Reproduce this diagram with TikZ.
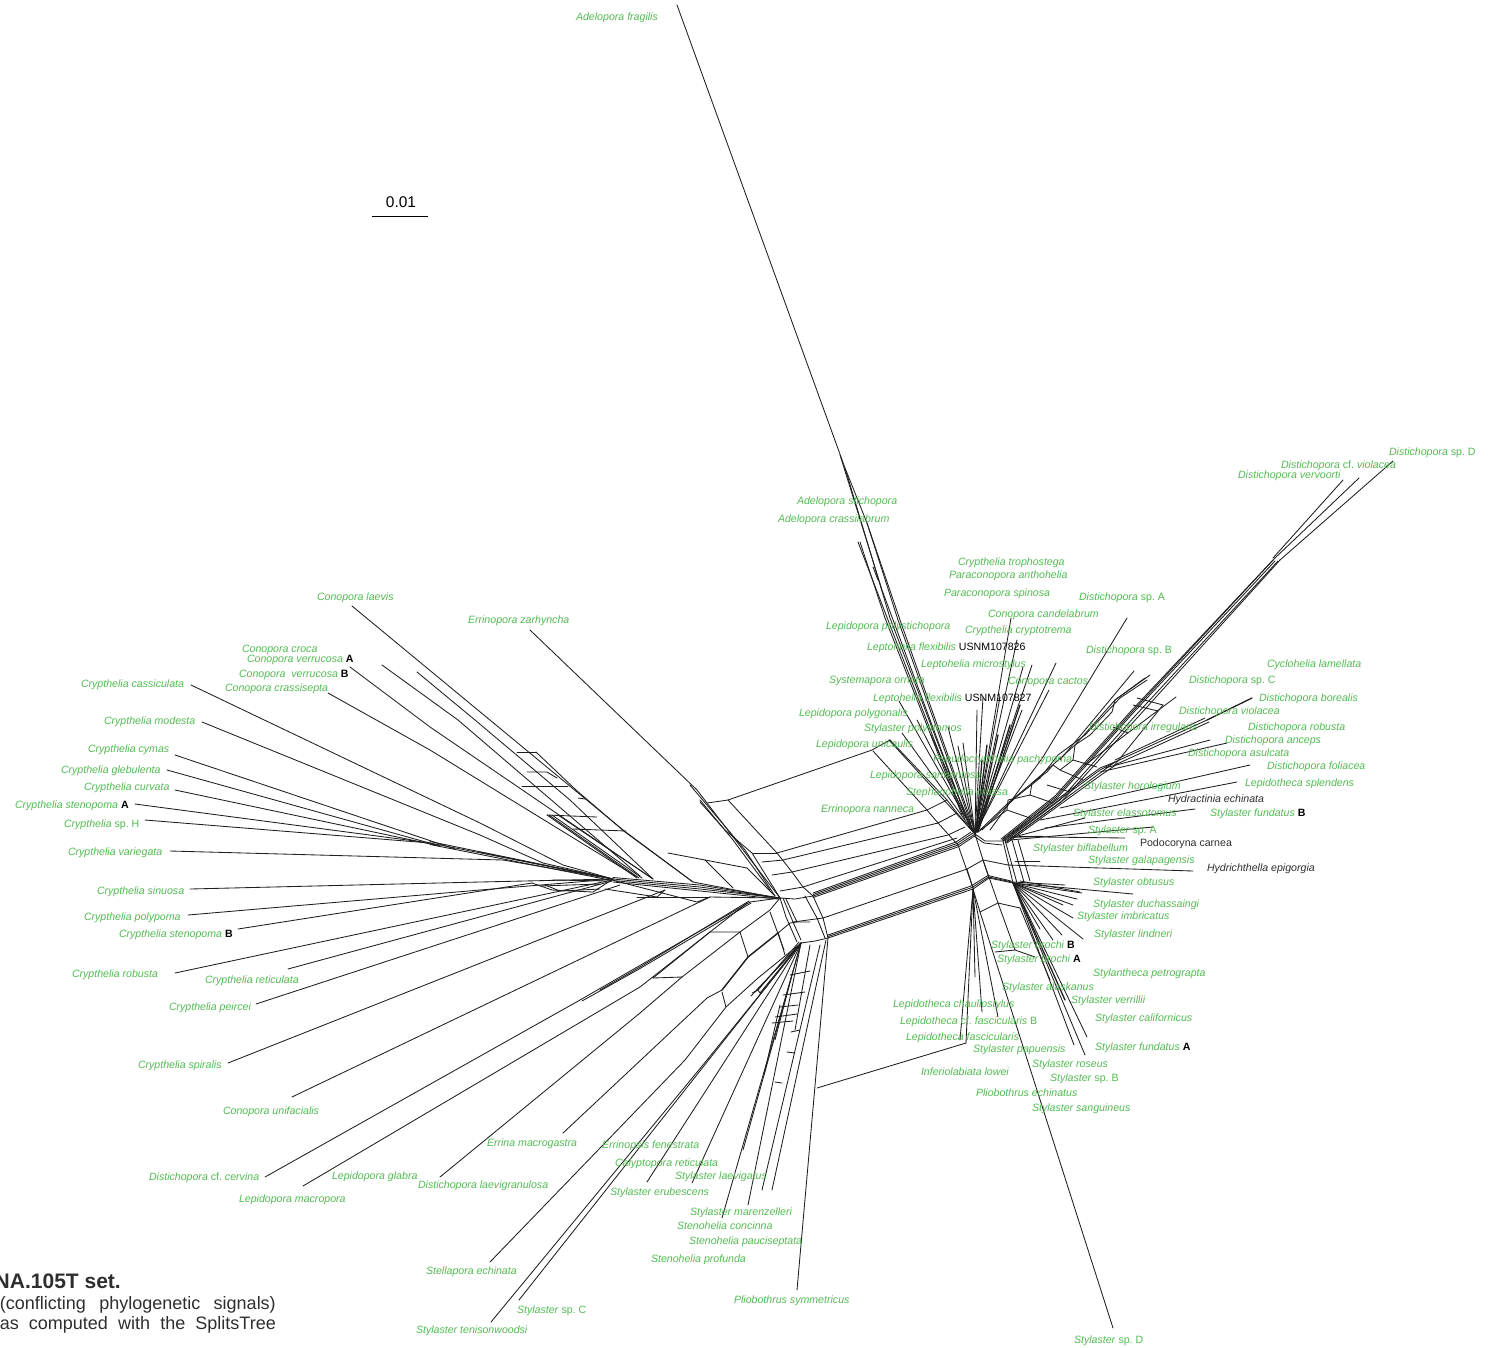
\documentclass[tikz,border=0pt]{standalone}
\usepackage{fontspec}
\setmainfont{Liberation Sans}
\frenchspacing
\definecolor{taxgreen}{HTML}{52BA52}
\definecolor{netline}{HTML}{1E1E1E}
\definecolor{captext}{HTML}{2E2E2E}
\tikzset{
  edge/.style={draw=netline,line width=0.85pt,line cap=round,line join=round},
  thick edge/.style={draw=netline,line width=1.3pt,line cap=round,line join=round},
  tax/.style={anchor=west,inner sep=0pt,outer sep=0pt,yshift=-2pt,text=taxgreen,font=\fontsize{10.6}{12}\selectfont\itshape},
  taxblack/.style={tax,text=captext},
  captxt/.style={anchor=east,inner sep=0pt,text=captext,font=\fontsize{18}{20}\selectfont},
}
\newcommand{\tagb}[1]{\textcolor{black}{\upshape #1}}
\newcommand{\tagB}[1]{\textcolor{black}{\upshape\bfseries #1}}
\newcommand{\up}[1]{\textup{#1}}
\begin{document}
\begin{tikzpicture}[x=1pt,y=-1pt]
\useasboundingbox (0,0) rectangle (1488,1347);
% hubs
\coordinate (LF) at (613,879);
\coordinate (LH) at (780,898);
\coordinate (LH2) at (813,896);
\coordinate (BH) at (801,943);
\coordinate (BH2) at (828,938);
\coordinate (TH) at (975,834);
\coordinate (RH) at (1003,841);
\coordinate (RB) at (1013,883);
\coordinate (MB) at (989,878);
\coordinate (BM) at (973,889);
\coordinate (UF) at (697,883);
\coordinate (DF) at (1115,762);
\coordinate (TF) at (1275,561);
% central parallel bundles
\draw[edge] (LH)--(795,899)--(LH2)--(958,845)--(TH);
\draw[edge] (LH2)++(0,-1.5)--(957,843.5)--(973,833);
\draw[edge] (LH2)++(0,-3)--(956,842)--(971,832);
\draw[edge] (LH2)++(0,1.5)--(959,846.5)--(976,835);
\draw[edge] (BH)--(815,941)--(BH2)--(BM)--(MB)--(RB);
\draw[edge] (BH2)++(0,-3)--(971,886)--(988,875.5)--(1011,881);
\draw[edge] (BH2)++(0,-1.5)--(972,887.5)--(988.5,877)--(1012,882);
\draw[edge] (TH)--(985,841)--(RH);
\draw[edge] (974,836)--(984,843)--(1002,845);
% middle splits
\draw[edge] (823,918)--(967,869)--(983,860)--(1008,865);
\draw[edge] (792,872)--(948,835)--(965,827);
\draw[edge] (777,853)--(927,810)--(947,800);
\draw[edge] (783,860)--(938,823)--(957,813);
\draw[edge] (803,887)--(957,838);
\draw[edge] (753,853)--(777,853);
\draw[edge] (762,862)--(783,860);
\draw[edge] (772,875)--(792,872);
\draw[edge] (780,891)--(803,887);
\draw[edge] (793,922)--(823,918);
% rails
\draw[edge] (707,803)--(728,800)--(872,750)--(890,740);
\draw[edge] (728,800)--(777,853)--(792,872)--(803,887)--(813,896);
\draw[edge] (873,751)--(927,810)--(938,823)--(958,845);
\draw[edge] (890,740)--(947,800)--(957,813)--(975,834);
\draw[edge] (958,845)--(973,888);
\draw[edge] (TH)--(983,860)--(MB);
\draw[edge] (967,869)--(973,888);
\draw[edge] (LH)--(786,917)--(797,942);
\draw[edge] (783,898)--(793,922)--(801,940);
\draw[edge] (786,899)--(797,922);
\draw[edge] (813,896)--(823,918)--(828,938);
\draw[edge] (805,896)--(817,918)--(825,938);
\draw[edge] (RH)--(RB);
\draw[edge] (1005,840)--(1017,883);
\draw[edge] (1012,840)--(1024,882);
\draw[edge] (1018,840)--(1030,881);
% Errinopora zarhyncha & neighbours
\draw[edge] (530,630)--(697,790)--(LH);
\draw[edge] (700,802)--(725,830)--(752,853)--(LH);
\draw[edge] (700,800)--(733,840)--(770,890);
\draw[edge] (690,785)--(745,850)--(775,896);
% fan at the upper left
\draw[edge] (352,606)--(623,830)--(693,882)--(772,897);
\draw[edge] (417,672)--(475,720)--(570,800)--(652,878);
\draw[edge] (382,665)--(458,720)--(640,876);
\draw[edge] (350,667)--(430,727)--(653,879);
\draw[edge] (328,693)--(430,750)--(637,877);
\draw[edge] (536,752)--(517,752);
\draw[edge] (527,772)--(547,772)--(557,778);
\draw[edge] (522,786)--(568,786);
\draw[edge] (578,798)--(585,799);
\draw[edge] (547,815)--(597,817);
\draw[edge] (573,829)--(626,831);
\draw[edge] (536,752)--(576,790)--(625,832)--(693,882);
\draw[edge] (547,815)--(637,878);
\draw[edge] (549,815)--(639,878);
\draw[edge] (552,815)--(642,878);
\draw[edge] (558,815)--(653,879);
\draw[edge] (668,853)--(705,860)--(747,868);
\draw[edge] (705,860)--(733,888);
\draw[edge] (747,868)--(775,896);
% central left bundle
\draw[edge] (LF)--(700,887)--(LH);
\draw[edge] (LF)++(0,-1.5)--(700,885)--(LH);
\draw[edge] (LF)++(0,1.5)--(700,889)--(LH);
\draw[edge] (LF)++(0,3)--(700,891)--(778,899);
\draw[edge] (430,843)--(LF);
\draw[edge] (430,841.5)--(LF);
\draw[edge] (430,844.5)--(612,880.5);
\draw[edge] (480,852)--(600,877);
% splits below the left hub
\draw[edge] (612,880)--(697,902)--(710,897);
\draw[edge] (605,889)--(657,897)--(665,890);
\draw[edge] (637,897)--(710,897);
\draw[edge] (710,897)--(778,898);
\draw[edge] (532,883)--(552,890)--(593,892)--(LF);
\draw[edge] (545,885)--(560,891)--(600,889);
\draw[edge] (540,886)--(600,884);
\draw[edge] (553,880)--(608,881);
% tips of the left fan
\foreach \tx/\ty/\ex/\ey in {175/755/455/849,167/770/440/846,175/790/440/846,135/804/430/843,145/820/430/843,170/851/503/860,188/915/480/890,238/929/532/883,175/973/612/880,288/969/612/881,256/1004/620/885,228/1063/665/890,292/1097/710/897}{
  \coordinate (tipA) at (\tx,\ty);
  \coordinate (endA) at (\ex,\ey);
  \draw[edge] (tipA)--(endA);
}
\draw[edge] (191,685)--(480,823)--(563,865)--(LF);
\draw[edge] (202,722)--(480,835)--(543,863)--(LF);
\draw[edge] (190,889)--(480,882)--(LF);
\draw[edge] (480,890)--(LF);
\draw[edge] (503,860)--(LF);
% lower-left splits
\draw[edge] (265,1177)--(580,1000)--(750,902);
\draw[edge] (582,1001)--(640,968.5)--(751,903);
\draw[edge] (600,990)--(640,967)--(749,901);
\draw[edge] (750,902)--(LH);
\draw[edge] (303,1186)--(640,987)--(710,932)--(740,932)--(770,910)--(LH);
\draw[edge] (710,932)--(747,903);
\draw[edge] (653,978)--(682,977);
\draw[edge] (653,978)--(710,932);
\draw[edge] (682,977)--(740,932);
\draw[edge] (440,1177)--(640,1013)--(682,977);
\draw[edge] (740,932)--(748,957);
\draw[edge] (563,1133)--(707,998)--(722,990)--(748,957)--(778,933)--(790,923)--(797,922)--(810,922);
\draw[thick edge] (722,990)--(748,957)--(778,933);
\draw[edge] (722,992)--(726,1007);
\draw[edge] (490,1262)--(685,1060)--(726,1007)--(758,978)--(BH);
\draw[edge] (770,912)--(784,950);
\draw[edge] (778,932)--(785,955);
% lower fan from hub BH
\foreach \tx/\ty in {519/1300,647/1182,692/1183,722/1218,748/1205,743/1150}{
  \coordinate (tipB) at (\tx,\ty);
  \draw[edge] (tipB)--(BH);
}
\draw[edge] (491,1322)--(707,1060)--(800,945);
\draw[edge] (755,992)--(BH);
\draw[edge] (758,990)--(799,942);
\draw[edge] (760,993)--(800,944);
\draw[edge] (751,996)--(BH);
\draw[edge] (752,993)--(758,990)--(760,993);
\draw[edge] (762,1190)--(820,945);
\draw[edge] (772,1190)--(826,940);
\draw[edge] (BH2)--(797,1290);
\draw[edge] (790,975)--(810,971);
\draw[edge] (783,995)--(805,992);
\draw[edge] (780,1007)--(798,1005);
\draw[edge] (775,1017)--(797,1014);
\draw[edge] (772,1023)--(793,1021);
\draw[edge] (791,1032)--(800,1030);
\draw[edge] (787,1052)--(795,1053);
\draw[edge] (775,1082)--(782,1083);
\draw[edge] (780,1005)--(764,1075);
\draw[edge] (792,975)--(775,1040);
\draw[edge] (810,945)--(795,1030);
\draw[edge] (817,1088)--(966,1043);
\draw[edge] (966,1043)--(BM);
% Adelopora group
\draw[edge] (677,5)--(845,468)--(890,618)--(968,822)--(TH);
\draw[edge] (845,468)--(867,523)--(898,620)--(971,824);
\draw[edge] (867,523)--(900,620)--(973,826);
\draw[edge] (840,455)--(882,590)--(969,825);
\draw[edge] (858,542)--(888,620)--(965,820);
\draw[edge] (860,542)--(885,618)--(962,815);
\draw[edge] (873,567)--(878,580);
\foreach \tx/\ty in {899/701,917/720,902/733,889/740,948/727,958/746,963/743,931/735,977/710,983/697,1011/618,1017/640,1032/665,1023/667,1056/663,1049/690,1022/710,1000/697}{
  \coordinate (tipC) at (\tx,\ty);
  \draw[edge] (tipC)--(TH);
}
\draw[thick edge] (982,760)--(976,832);
\draw[thick edge] (987,745)--(976,832);
\draw[thick edge] (998,735)--(977,832);
\draw[thick edge] (1010,725)--(977,832);
\draw[thick edge] (1020,705)--(978,832);
% right up bundles
\draw[edge] (1127,618)--(1043,757)--(990,830);
\draw[edge] (RH)--(1057,798)--(1133,713)--(TF);
\draw[edge] (1001,839)--(1055,796)--(1131,711)--(1273,560);
\draw[edge] (1003,839)--(1056,797)--(1132,712)--(1275,558);
\draw[edge] (1005,841)--(1060,800)--(1135,716)--(1278,561);
\draw[edge] (1007,841)--(1061,802)--(1137,718)--(1280,560);
\draw[edge] (1280,560)--(1393,461);
\draw[edge] (1275,558)--(1359,478);
\draw[edge] (1273,558)--(1343,480);
% jagged rail
\draw[edge] (978,832)--(1007,810)--(1008,800)--(1030,795)--(1032,783)--(1047,772)--(1053,765)--(1060,770)--(1073,760)--(1075,745)--(1090,735)--(1112,712)--(1115,700)--(1150,675);
\draw[edge] (980,830)--(1008,803)--(1032,783)--(1047,770)--(1075,745)--(1115,700)--(1145,678);
\draw[edge] (982,830)--(1015,798)--(1040,778)--(1058,755)--(1085,735)--(1120,698)--(1147,680);
\foreach \ax/\ay/\bx/\by in {1007/810/1030/818,1030/795/1053/803,1047/785/1070/792,1060/770/1083/780,1073/760/1097/767,1113/727/1128/733,1137/698/1163/705,1133/705/1158/711}{
  \coordinate (barA) at (\ax,\ay);
  \coordinate (barB) at (\bx,\by);
  \draw[edge] (barA)--(barB);
}
\draw[edge] (1134,671)--(1060,760);
\draw[edge] (1163,705)--(1113,767);
\draw[edge] (1176,697)--(1085,765);
% lower right-up bundle
\draw[edge] (RH)--(1100,770)--(DF);
\draw[edge] (1002,840)--(1100,768)--(DF);
\draw[edge] (1005,843)--(1100,773)--(DF);
\draw[edge] (1007,843)--(1101,775)--(1117,764);
\draw[edge] (DF)--(1207,720);
\draw[thick edge] (1207,720)--(1252,698);
\draw[edge] (1117,764)--(1209,722);
\draw[edge] (1115,760)--(1205,718);
\draw[edge] (1105,768)--(1210,740);
\draw[edge] (1100,772)--(1227,743);
\draw[edge] (1060,808)--(1250,765);
\draw[edge] (1040,820)--(1237,782);
\draw[edge] (1045,828)--(1195,809);
\draw[edge] (1010,840)--(1153,827);
\draw[edge] (1010,838)--(1085,818);
\draw[edge] (1043,837)--(1125,838);
\draw[thick edge] (1012,837)--(1043,836.5);
\draw[edge] (1008,865)--(1193,871);
\draw[edge] (1015,861)--(1040,861);
% right-lower fan
\foreach \tx/\ty in {1133/894,1082/893,1077/899,1073/905,1073/918,1063/905,1083/939,1062/935,1053/940,1040/929,1087/1037,1074/1045,1085/1055}{
  \coordinate (tipD) at (\tx,\ty);
  \draw[edge] (RB)--(tipD);
}
\draw[thick edge] (RB)--(1065,1000);
\draw[edge] (1013,882)--(1065,885);
\draw[edge] (1020,881)--(1080,892);
% lower splits, right
\draw[edge] (983,860)--(998,903)--(1015,950);
\draw[edge] (980,912)--(998,903)--(1020,908);
\draw[edge] (973,889)--(980,912)--(1113,1328);
\draw[edge] (995,952)--(1015,950)--(1035,957);
\draw[edge] (1020,908)--(1050,980);
\draw[edge] (BM)--(975,977);
\draw[edge] (BM)--(982,1012);
\draw[edge] (BM)--(998,1017);
\draw[edge] (BM)--(960,1040);
% scale bar
\coordinate (sbL) at (372,216);
\coordinate (sbR) at (428,216);
\draw[draw=black,line width=1pt] (sbL)--(sbR);
\node[inner sep=0pt,font=\fontsize{15.5}{17}\selectfont,text=black] (sb) at (401,202) {0.01};
% caption
\node[captxt,font=\fontsize{21}{23}\selectfont\bfseries] (cap1) at (121,1281) {NA.105T set.};
\node[captxt] (cap2) at (276,1305) {\makebox[276pt][s]{(conflicting phylogenetic signals)}};
\node[captxt] (cap3) at (276,1325) {\makebox[276pt][s]{as computed with the SplitsTree}};
% labels
\foreach \nx/\ny/\txt in {
576/16/Adelopora fragilis,797/500/Adelopora stichopora,778/518/Adelopora crassilabrum,
958/561/Crypthelia trophostega,949/574/Paraconopora anthohelia,944/592/Paraconopora spinosa,
1079/596/Distichopora \up{sp. A},988/613/Conopora candelabrum,965/629/Crypthelia cryptotrema,
826/625/Lepidopora polystichopora,1086/649/Distichopora \up{sp. B},921/663/Leptohelia microstylus,
1267/663/Cyclohelia lamellata,829/679/Systemapora ornata,1008/680/Conopora cactos,
1189/679/Distichopora \up{sp. C},1259/697/Distichopora borealis,799/712/Lepidopora polygonalis,
1179/710/Distichopora violacea,864/727/Stylaster polystomos,1089/726/Distichopora irregularis,
1248/726/Distichopora robusta,816/743/Lepidopora unicaulis,1225/739/Distichopora anceps,
1188/752/Distichopora asulcata,933/758/Pseudocrypthelia pachypoma,1267/765/Distichopora foliacea,
870/774/Lepidopora sarmentosa,1245/782/Lepidotheca splendens,1084/785/Stylaster horologium,
906/791/Stephanohelia crassa,821/808/Errinopora nanneca,1073/812/Stylaster elassotomus,
1088/829/Stylaster \up{sp. A},1033/847/Stylaster biflabellum,1088/859/Stylaster galapagensis,
1093/881/Stylaster obtusus,1093/903/Stylaster duchassaingi,1077/915/Stylaster imbricatus,
1094/933/Stylaster lindneri,1093/972/Stylantheca petrograpta,1002/986/Stylaster alaskanus,
1071/999/Stylaster verrillii,893/1003/Lepidotheca chauliostylus,1095/1017/Stylaster californicus,
900/1020/Lepidotheca \up{cf.} fascicularis \up{B},906/1036/Lepidotheca fascicularis,973/1048/Stylaster papuensis,
1032/1063/Stylaster roseus,921/1070/Inferiolabiata lowei,1050/1077/Stylaster \up{sp. B},
976/1091/Pliobothrus echinatus,1032/1107/Stylaster sanguineus,
317/596/Conopora laevis,468/619/Errinopora zarhyncha,242/648/Conopora croca,
225/687/Conopora crassisepta,81/683/Crypthelia cassiculata,104/720/Crypthelia modesta,
88/748/Crypthelia cymas,61/769/Crypthelia glebulenta,84/786/Crypthelia curvata,
64/823/Crypthelia \up{sp. H},68/851/Crypthelia variegata,97/890/Crypthelia sinuosa,
84/916/Crypthelia polypoma,72/973/Crypthelia robusta,205/979/Crypthelia reticulata,
169/1006/Crypthelia peircei,138/1064/Crypthelia spiralis,223/1110/Conopora unifacialis,
149/1176/Distichopora \up{cf.} cervina,239/1198/Lepidopora macropora,332/1175/Lepidopora glabra,
418/1184/Distichopora laevigranulosa,487/1142/Errina macrogastra,602/1144/Errinopsis fenestrata,
615/1162/Calyptopora reticulata,675/1175/Stylaster laevigatus,610/1191/Stylaster erubescens,
690/1211/Stylaster marenzelleri,677/1224/Stenohelia concinna,689/1240/Stenohelia pauciseptata,
651/1258/Stenohelia profunda,426/1270/Stellapora echinata,517/1309/Stylaster \up{sp. C},
416/1329/Stylaster tenisonwoodsi,734/1299/Pliobothrus symmetricus,1074/1339/Stylaster \up{sp. D},
1389/451/Distichopora \up{sp. D},1281/464/Distichopora \up{cf.} violacea,1238/474/Distichopora vervoorti}{
  \node[tax] (lab) at (\nx,\ny) {\txt};
}
\node[tax] (lf1) at (867,646) {Leptohelia flexibilis \tagb{USNM107826}};
\node[tax] (lf2) at (873,697) {Leptohelia flexibilis \tagb{USNM107827}};
\node[tax] (sfb) at (1210,812) {Stylaster fundatus \tagB{B}};
\node[tax] (sfa) at (1095,1046) {Stylaster fundatus \tagB{A}};
\node[tax] (sbb) at (991,944) {Stylaster brochi \tagB{B}};
\node[tax] (sba) at (997,958) {Stylaster brochi \tagB{A}};
\node[tax] (cva) at (247,658) {Conopora verrucosa \tagB{A}};
\node[tax] (cvb) at (239,673) {Conopora\ \ verrucosa \tagB{B}};
\node[tax] (csa) at (15,804) {Crypthelia stenopoma \tagB{A}};
\node[tax] (csb) at (119,933) {Crypthelia stenopoma \tagB{B}};
\node[taxblack] (he) at (1168,798) {Hydractinia echinata};
\node[tax,text=captext,font=\fontsize{10.6}{12}\selectfont] (pc) at (1140,842) {Podocoryna carnea};
\node[taxblack] (hy) at (1207,867) {Hydrichthella epigorgia};
\end{tikzpicture}
\end{document}
